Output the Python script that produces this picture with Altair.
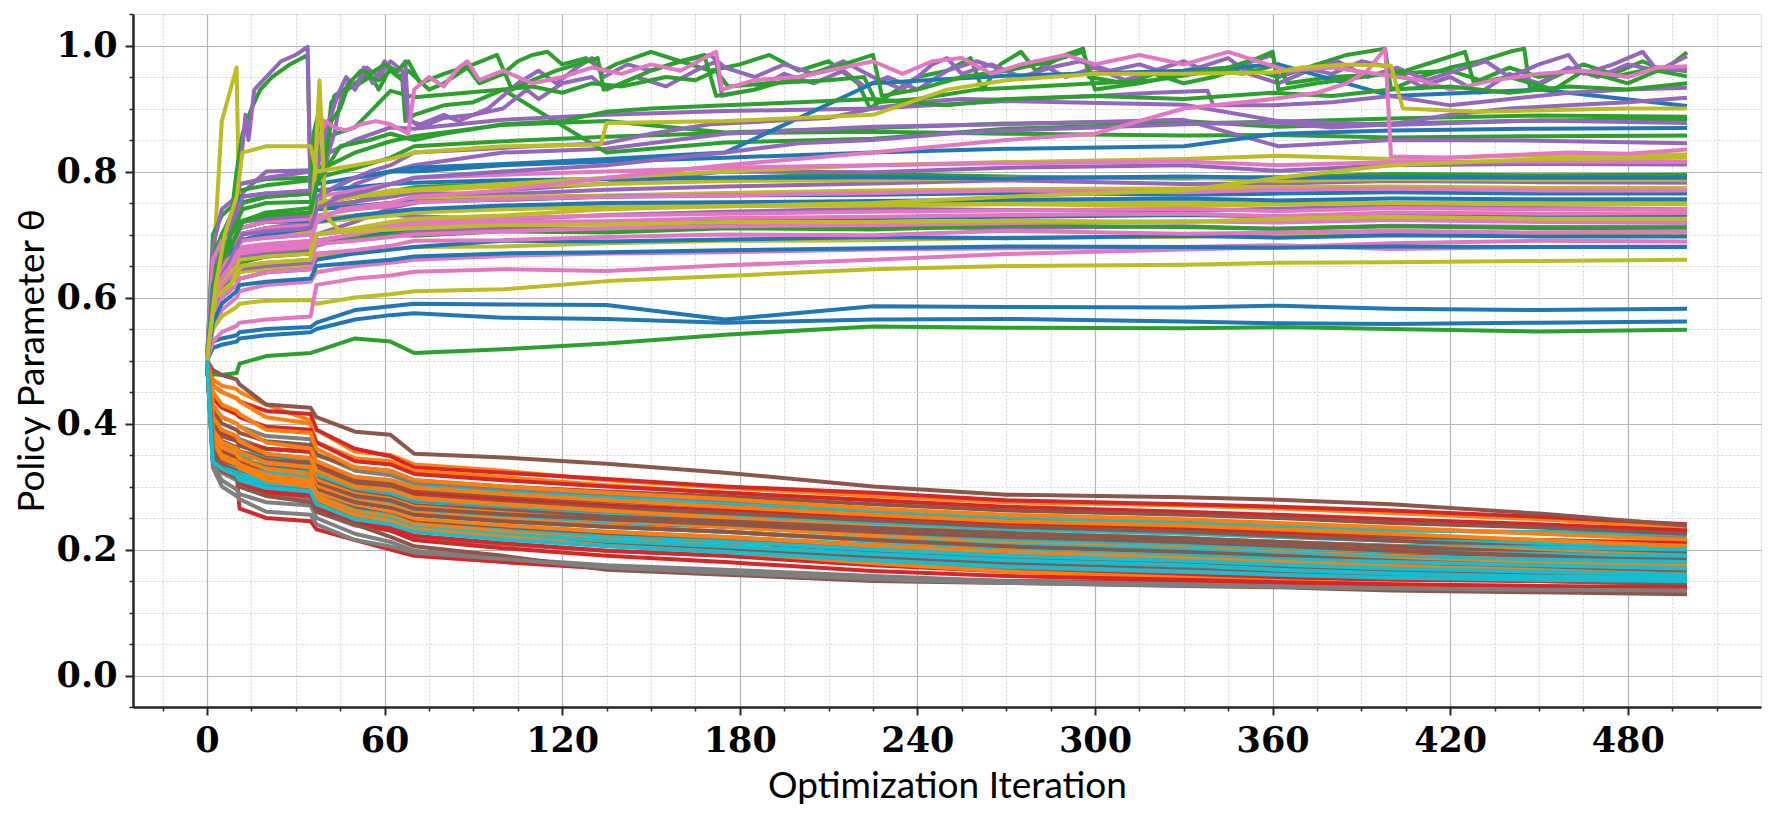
import altair as alt
import pandas as pd

# shared iteration grid for most runs
ITERS = [0, 2, 5, 10, 11, 20, 35, 37, 50, 62, 70, 100, 135, 175, 225, 270, 330, 362, 400, 450, 500]

COLOR_NAMES = ["blue", "orange", "green", "red", "purple", "brown", "pink", "gray", "olive", "cyan"]
COLOR_HEX = ["#1f77b4", "#ff7f0e", "#2ca02c", "#d62728", "#9467bd",
             "#8c564b", "#e377c2", "#7f7f7f", "#bcbd22", "#17becf"]

X_TICKS = [-15, 0, 15, 30, 45, 60, 75, 90, 105, 120, 135, 150, 165, 180, 195, 210, 225, 240,
           255, 270, 285, 300, 315, 330, 345, 360, 375, 390, 405, 420, 435, 450, 465, 480, 495, 510]
Y_TICKS = [-0.05, 0.0, 0.05, 0.1, 0.15, 0.2, 0.25, 0.3, 0.35, 0.4, 0.45, 0.5, 0.55, 0.6,
           0.65, 0.7, 0.75, 0.8, 0.85, 0.9, 0.95, 1.0, 1.05]

# ---------------- upper runs (grid) ----------------
BLUE = [
    [0.5, 0.52, 0.525, 0.53, 0.535, 0.54, 0.545, 0.55, 0.565, 0.572, 0.575, 0.568, 0.566, 0.56, 0.565, 0.566, 0.562, 0.559, 0.558, 0.56, 0.562],
    [0.5, 0.53, 0.535, 0.54, 0.545, 0.55, 0.553, 0.56, 0.58, 0.586, 0.59, 0.589, 0.588, 0.565, 0.586, 0.585, 0.584, 0.587, 0.582, 0.58, 0.582],
    [0.5, 0.57, 0.60, 0.62, 0.63, 0.64, 0.645, 0.66, 0.67, 0.676, 0.68, 0.69, 0.689, 0.692, 0.696, 0.694, 0.698, 0.695, 0.699, 0.697, 0.697],
    [0.5, 0.60, 0.63, 0.65, 0.66, 0.665, 0.67, 0.69, 0.70, 0.705, 0.71, 0.716, 0.72, 0.722, 0.726, 0.728, 0.731, 0.729, 0.732, 0.73, 0.73],
    [0.5, 0.62, 0.65, 0.67, 0.69, 0.70, 0.702, 0.72, 0.73, 0.736, 0.74, 0.746, 0.75, 0.751, 0.753, 0.755, 0.757, 0.754, 0.757, 0.756, 0.756],
    [0.5, 0.63, 0.66, 0.68, 0.70, 0.71, 0.715, 0.74, 0.745, 0.75, 0.752, 0.755, 0.76, 0.762, 0.763, 0.766, 0.763, 0.765, 0.767, 0.765, 0.765],
    [0.5, 0.64, 0.68, 0.72, 0.76, 0.765, 0.766, 0.77, 0.775, 0.78, 0.782, 0.786, 0.788, 0.79, 0.791, 0.789, 0.792, 0.79, 0.791, 0.79, 0.79],
    [0.5, 0.64, 0.68, 0.70, 0.71, 0.72, 0.722, 0.78, 0.79, 0.80, 0.80, 0.81, 0.816, 0.822, 0.83, 0.836, 0.84, 0.86, 0.865, 0.868, 0.869],
    [0.5, 0.62, 0.66, 0.68, 0.69, 0.70, 0.71, 0.76, 0.79, 0.80, 0.806, 0.812, 0.82, 0.83, 0.94, 0.952, 0.96, 0.97, 0.92, 0.93, 0.904],
    [0.5, 0.56, 0.59, 0.61, 0.62, 0.625, 0.63, 0.65, 0.655, 0.66, 0.665, 0.67, 0.672, 0.675, 0.678, 0.681, 0.68, 0.679, 0.681, 0.68, 0.68],
]
GREEN = [
    [0.5, 0.478, 0.477, 0.48, 0.495, 0.507, 0.512, 0.515, 0.535, 0.53, 0.512, 0.518, 0.527, 0.541, 0.554, 0.552, 0.551, 0.553, 0.55, 0.546, 0.549],
    [0.5, 0.58, 0.615, 0.635, 0.655, 0.665, 0.672, 0.69, 0.695, 0.70, 0.698, 0.705, 0.703, 0.71, 0.708, 0.714, 0.712, 0.709, 0.713, 0.71, 0.71],
    [0.5, 0.64, 0.69, 0.72, 0.75, 0.76, 0.765, 0.742, 0.752, 0.768, 0.775, 0.781, 0.788, 0.79, 0.796, 0.792, 0.789, 0.791, 0.796, 0.794, 0.795],
    [0.5, 0.66, 0.70, 0.74, 0.77, 0.778, 0.786, 0.79, 0.805, 0.822, 0.84, 0.848, 0.855, 0.861, 0.863, 0.86, 0.857, 0.858, 0.854, 0.856, 0.857],
    [0.5, 0.62, 0.668, 0.70, 0.72, 0.735, 0.742, 0.80, 0.83, 0.848, 0.856, 0.874, 0.88, 0.862, 0.869, 0.876, 0.88, 0.871, 0.876, 0.881, 0.883],
    [0.5, 0.70, 0.73, 0.752, 0.78, 0.788, 0.79, 0.85, 0.87, 0.928, 0.918, 0.93, 0.83, 0.846, 0.852, 0.868, 0.876, 0.879, 0.884, 0.889, 0.887],
]
PURPLE = [
    [0.5, 0.60, 0.64, 0.655, 0.664, 0.67, 0.676, 0.682, 0.70, 0.706, 0.704, 0.71, 0.709, 0.716, 0.712, 0.71, 0.713, 0.709, 0.714, 0.712, 0.713],
    [0.5, 0.63, 0.66, 0.68, 0.69, 0.695, 0.70, 0.72, 0.726, 0.731, 0.729, 0.724, 0.731, 0.736, 0.741, 0.739, 0.737, 0.741, 0.745, 0.742, 0.74],
    [0.5, 0.66, 0.70, 0.75, 0.762, 0.80, 0.802, 0.745, 0.752, 0.76, 0.766, 0.764, 0.771, 0.776, 0.781, 0.786, 0.78, 0.781, 0.785, 0.783, 0.782],
    [0.5, 0.58, 0.62, 0.64, 0.645, 0.65, 0.655, 0.70, 0.72, 0.742, 0.75, 0.77, 0.781, 0.80, 0.799, 0.806, 0.81, 0.801, 0.81, 0.812, 0.811],
    [0.5, 0.62, 0.66, 0.69, 0.70, 0.71, 0.72, 0.74, 0.78, 0.80, 0.81, 0.83, 0.836, 0.86, 0.871, 0.875, 0.882, 0.84, 0.85, 0.849, 0.845],
    [0.5, 0.68, 0.74, 0.76, 0.78, 0.79, 0.80, 0.82, 0.85, 0.87, 0.868, 0.882, 0.89, 0.896, 0.90, 0.912, 0.906, 0.88, 0.874, 0.881, 0.877],
]
PINK = [
    [0.5, 0.55, 0.58, 0.60, 0.61, 0.62, 0.625, 0.64, 0.65, 0.655, 0.66, 0.666, 0.67, 0.672, 0.676, 0.678, 0.68, 0.683, 0.677, 0.68, 0.681],
    [0.5, 0.53, 0.545, 0.555, 0.56, 0.565, 0.57, 0.62, 0.63, 0.635, 0.641, 0.645, 0.642, 0.651, 0.66, 0.669, 0.676, 0.68, 0.686, 0.69, 0.689],
    [0.5, 0.57, 0.60, 0.62, 0.63, 0.64, 0.645, 0.67, 0.675, 0.682, 0.69, 0.691, 0.696, 0.70, 0.699, 0.706, 0.701, 0.703, 0.706, 0.703, 0.705],
    [0.5, 0.59, 0.62, 0.645, 0.65, 0.655, 0.66, 0.685, 0.69, 0.696, 0.70, 0.705, 0.71, 0.713, 0.715, 0.718, 0.721, 0.719, 0.723, 0.72, 0.72],
    [0.5, 0.60, 0.64, 0.66, 0.67, 0.675, 0.68, 0.69, 0.70, 0.71, 0.716, 0.72, 0.721, 0.726, 0.728, 0.731, 0.733, 0.729, 0.735, 0.733, 0.734],
    [0.5, 0.62, 0.655, 0.67, 0.675, 0.68, 0.685, 0.70, 0.706, 0.715, 0.72, 0.726, 0.73, 0.733, 0.736, 0.738, 0.741, 0.737, 0.742, 0.74, 0.74],
    [0.5, 0.64, 0.67, 0.69, 0.70, 0.71, 0.715, 0.73, 0.74, 0.745, 0.751, 0.756, 0.76, 0.762, 0.766, 0.77, 0.767, 0.771, 0.773, 0.77, 0.77],
    [0.5, 0.66, 0.69, 0.70, 0.71, 0.72, 0.725, 0.76, 0.77, 0.78, 0.79, 0.795, 0.80, 0.806, 0.81, 0.813, 0.816, 0.81, 0.815, 0.816, 0.815],
]
OLIVE = [
    [0.5, 0.55, 0.57, 0.585, 0.59, 0.595, 0.596, 0.59, 0.60, 0.605, 0.61, 0.613, 0.626, 0.634, 0.645, 0.65, 0.652, 0.655, 0.656, 0.658, 0.66],
    [0.5, 0.58, 0.61, 0.63, 0.64, 0.645, 0.65, 0.665, 0.67, 0.676, 0.68, 0.681, 0.686, 0.69, 0.691, 0.695, 0.696, 0.70, 0.701, 0.70, 0.70],
    [0.5, 0.62, 0.65, 0.67, 0.72, 0.73, 0.735, 0.725, 0.73, 0.736, 0.74, 0.741, 0.743, 0.745, 0.746, 0.748, 0.745, 0.748, 0.75, 0.748, 0.748],
    [0.5, 0.64, 0.88, 0.965, 0.70, 0.71, 0.72, 0.72, 0.725, 0.73, 0.735, 0.74, 0.745, 0.746, 0.748, 0.75, 0.751, 0.748, 0.75, 0.751, 0.75],
    [0.5, 0.63, 0.66, 0.68, 0.70, 0.71, 0.712, 0.74, 0.745, 0.75, 0.756, 0.76, 0.762, 0.766, 0.77, 0.772, 0.773, 0.775, 0.776, 0.774, 0.774],
    [0.5, 0.64, 0.67, 0.69, 0.71, 0.72, 0.722, 0.75, 0.76, 0.765, 0.77, 0.776, 0.78, 0.785, 0.786, 0.79, 0.791, 0.785, 0.788, 0.787, 0.787],
    [0.5, 0.62, 0.65, 0.68, 0.69, 0.70, 0.705, 0.75, 0.76, 0.77, 0.772, 0.78, 0.79, 0.80, 0.81, 0.815, 0.82, 0.825, 0.82, 0.826, 0.827],
    [0.5, 0.60, 0.63, 0.65, 0.66, 0.665, 0.67, 0.70, 0.71, 0.72, 0.725, 0.73, 0.74, 0.745, 0.75, 0.76, 0.77, 0.79, 0.81, 0.82, 0.822],
]

# ---------------- upper runs with their own iterations (jagged) ----------------
GREEN_J = [
    [(0, .5), (3, .68), (8, .72), (10, .80), (12, .86), (15, .90), (18, .93), (22, .95), (28, .97), (34, .985), (35, .77), (37, .80), (38, .88), (40, .82), (42, .91), (45, .92), (50, .94), (55, .955), (58, .93), (62, .965), (65, .95), (68, .96), (75, .93), (80, .94), (88, .965), (92, .94), (100, .955), (105, .975), (110, .985), (115, .99), (120, .97), (128, .98), (134, .96), (138, .97), (150, .99), (160, .975), (170, .96), (180, .97), (190, .985), (200, .96), (210, .975), (220, .94), (224, .90), (230, .92), (240, .95), (250, .96), (258, .98), (262, .93), (268, .97), (275, .99), (280, .96), (290, .985), (296, .995), (298, .95), (310, .94), (320, .955), (330, .94), (340, .95), (350, .965), (362, .95), (375, .97), (385, .985), (398, .995), (400, .93), (410, .95), (420, .965), (430, .975), (440, .99), (445, .995), (447, .93), (455, .95), (465, .97), (475, .955), (485, .975), (492, .96), (500, .989)],
    [(0, .5), (3, .66), (8, .69), (10, .72), (12, .75), (20, .76), (35, .765), (36, .86), (38, .90), (40, .85), (43, .92), (46, .93), (50, .935), (55, .95), (58, .945), (62, .96), (66, .945), (67, .88), (70, .89), (80, .905), (90, .91), (100, .93), (110, .935), (120, .925), (130, .94), (140, .935), (155, .95), (165, .945), (172, .96), (176, .935), (190, .94), (210, .945), (222, .95), (226, .91), (240, .915), (260, .93), (280, .935), (300, .94), (320, .945), (340, .96), (350, .955), (362, .97), (365, .94), (380, .95), (400, .955), (420, .96), (430, .945), (440, .965), (450, .95), (460, .96), (475, .95), (490, .965), (500, .959)],
    [(0, .5), (3, .64), (8, .70), (10, .72), (12, .74), (20, .75), (35, .752), (37, .79), (40, .82), (42, .88), (45, .90), (48, .94), (52, .96), (55, .955), (60, .97), (64, .96), (68, .975), (72, .94), (80, .955), (90, .97), (98, .985), (103, .93), (110, .945), (118, .96), (125, .97), (132, .98), (134, .93), (140, .94), (150, .96), (160, .975), (168, .985), (172, .92), (185, .93), (200, .95), (215, .97), (225, .985), (228, .92), (240, .93), (255, .95), (270, .96), (285, .975), (296, .99), (300, .93), (315, .94), (330, .955), (345, .965), (355, .98), (360, .99), (362, .93), (375, .94), (390, .95), (405, .96), (415, .975), (425, .99), (428, .94), (440, .95), (455, .93), (465, .96), (480, .94), (490, .96), (500, .951)],
    [(0, .5), (3, .65), (8, .68), (10, .70), (12, .72), (20, .73), (35, .735), (37, .78), (45, .84), (55, .85), (62, .86), (70, .85), (80, .86), (100, .875), (120, .88), (135, .895), (150, .90), (175, .905), (200, .91), (225, .915), (250, .905), (270, .915), (300, .92), (330, .915), (360, .925), (380, .92), (400, .93), (420, .935), (440, .925), (460, .935), (480, .93), (500, .94)],
]
PURPLE_J = [
    [(0, .5), (3, .66), (8, .70), (10, .76), (12, .84), (13, .89), (14, .85), (16, .93), (20, .95), (25, .975), (30, .985), (34, .998), (35, .76), (38, .745), (41, .83), (43, .86), (45, .91), (48, .945), (50, .93), (53, .965), (56, .94), (60, .975), (64, .955), (67, .975), (68, .885), (72, .87), (80, .885), (90, .89), (100, .90), (108, .93), (112, .915), (120, .94), (130, .95), (135, .93), (145, .95), (155, .935), (165, .96), (172, .975), (174, .92), (185, .93), (195, .955), (205, .94), (215, .96), (222, .935), (230, .95), (240, .93), (250, .96), (260, .975), (270, .96), (280, .975), (290, .95), (300, .965), (310, .945), (320, .96), (330, .975), (340, .955), (350, .97), (360, .985), (362, .95), (370, .965), (380, .955), (390, .975), (400, .965), (410, .935), (420, .95), (430, .925), (440, .955), (450, .94), (460, .965), (470, .95), (480, .97), (490, .96), (500, .983)],
    [(0, .5), (3, .67), (8, .71), (10, .73), (12, .76), (20, .765), (35, .77), (37, .80), (40, .86), (44, .92), (47, .95), (50, .93), (54, .965), (58, .95), (62, .975), (66, .96), (68, .88), (72, .875), (80, .89), (85, .88), (95, .90), (105, .94), (112, .96), (118, .94), (125, .965), (130, .98), (134, .95), (142, .97), (150, .96), (160, .975), (170, .985), (175, .965), (185, .95), (195, .97), (205, .955), (215, .975), (225, .95), (235, .93), (245, .97), (250, .98), (255, .955), (265, .97), (275, .95), (285, .965), (295, .975), (305, .96), (315, .97), (325, .955), (335, .965), (345, .98), (352, .955), (362, .94), (372, .96), (382, .975), (392, .95), (402, .965), (412, .945), (422, .96), (432, .975), (440, .95), (450, .97), (460, .985), (465, .955), (475, .97), (485, .99), (490, .96), (500, .962)],
    [(0, .5), (3, .64), (8, .68), (10, .70), (12, .72), (20, .725), (35, .73), (37, .76), (45, .78), (55, .80), (62, .81), (70, .83), (90, .835), (110, .84), (135, .845), (150, .86), (170, .875), (190, .88), (210, .885), (225, .90), (240, .91), (255, .915), (270, .914), (300, .92), (320, .925), (338, .928), (340, .905), (360, .905), (380, .91), (400, .92), (420, .905), (440, .915), (460, .925), (480, .93), (500, .933)],
    [(0, .5), (3, .62), (8, .66), (10, .68), (12, .70), (20, .705), (35, .71), (37, .74), (45, .76), (55, .77), (62, .78), (70, .79), (100, .80), (135, .81), (175, .83), (200, .845), (225, .85), (250, .86), (270, .865), (300, .87), (330, .875), (360, .878), (380, .87), (400, .875), (420, .89), (440, .90), (460, .905), (480, .91), (500, .917)],
]
PINK_J = [
    [(0, .5), (3, .63), (8, .66), (10, .68), (12, .69), (20, .695), (35, .70), (37, .84), (40, .88), (43, .87), (47, .865), (52, .875), (57, .88), (62, .875), (68, .86), (70, .93), (75, .95), (80, .935), (85, .965), (88, .975), (92, .945), (100, .96), (110, .94), (120, .95), (130, .965), (140, .955), (150, .97), (160, .96), (172, .99), (174, .93), (185, .945), (200, .95), (215, .965), (225, .975), (235, .955), (245, .975), (255, .98), (265, .955), (275, .97), (290, .985), (300, .97), (315, .985), (330, .97), (345, .99), (355, .975), (365, .96), (380, .965), (395, .955), (410, .945), (420, .93), (435, .945), (450, .955), (465, .96), (480, .95), (490, .965), (500, .967)],
    [(0, .5), (3, .62), (8, .65), (10, .67), (12, .68), (20, .685), (35, .69), (37, .72), (45, .74), (62, .75), (70, .76), (100, .77), (135, .79), (175, .81), (225, .83), (270, .85), (300, .86), (330, .90), (360, .915), (375, .925), (385, .94), (392, .96), (398, .995), (400, .824), (420, .822), (440, .826), (460, .83), (480, .828), (500, .835)],
]
OLIVE_J = [
    [(0, .5), (3, .60), (8, .62), (10, .64), (12, .65), (20, .655), (35, .66), (37, .85), (38, .945), (40, .73), (45, .705), (50, .705), (62, .708), (70, .71), (100, .715), (135, .716), (175, .72), (225, .72), (270, .722), (330, .72), (362, .725), (400, .728), (450, .725), (500, .725)],
    [(0, .5), (3, .62), (6, .70), (10, .76), (12, .83), (20, .84), (35, .84), (37, .80), (50, .81), (62, .82), (70, .83), (100, .84), (133, .843), (135, .877), (175, .88), (225, .89), (250, .93), (270, .945), (300, .955), (330, .955), (360, .957), (370, .965), (385, .97), (400, .968), (404, .90), (430, .895), (460, .898), (480, .90), (500, .90)],
]

# ---------------- lower runs (grid) ----------------
ORANGE = [
    [0.5, 0.47, 0.46, 0.455, 0.45, 0.43, 0.405, 0.39, 0.355, 0.35, 0.335, 0.325, 0.31, 0.298, 0.285, 0.275, 0.27, 0.265, 0.258, 0.248, 0.235],
    [0.5, 0.46, 0.45, 0.44, 0.435, 0.41, 0.40, 0.37, 0.345, 0.34, 0.325, 0.315, 0.302, 0.29, 0.278, 0.265, 0.258, 0.252, 0.245, 0.236, 0.226],
    [0.5, 0.45, 0.43, 0.42, 0.415, 0.39, 0.385, 0.36, 0.33, 0.325, 0.31, 0.30, 0.29, 0.28, 0.265, 0.255, 0.248, 0.242, 0.235, 0.225, 0.215],
    [0.5, 0.43, 0.41, 0.40, 0.395, 0.37, 0.36, 0.34, 0.315, 0.31, 0.298, 0.288, 0.278, 0.268, 0.255, 0.245, 0.238, 0.232, 0.225, 0.215, 0.205],
    [0.5, 0.41, 0.39, 0.38, 0.372, 0.352, 0.345, 0.325, 0.30, 0.295, 0.282, 0.272, 0.262, 0.25, 0.236, 0.226, 0.218, 0.212, 0.205, 0.198, 0.19],
    [0.5, 0.39, 0.37, 0.36, 0.355, 0.338, 0.33, 0.31, 0.288, 0.28, 0.268, 0.258, 0.247, 0.236, 0.222, 0.21, 0.202, 0.196, 0.19, 0.183, 0.176],
    [0.5, 0.38, 0.362, 0.352, 0.345, 0.328, 0.32, 0.30, 0.278, 0.27, 0.258, 0.248, 0.238, 0.228, 0.214, 0.203, 0.195, 0.19, 0.184, 0.178, 0.171],
    [0.5, 0.37, 0.35, 0.34, 0.335, 0.318, 0.31, 0.29, 0.268, 0.26, 0.248, 0.238, 0.228, 0.22, 0.206, 0.196, 0.186, 0.18, 0.174, 0.167, 0.16],
    [0.5, 0.36, 0.345, 0.335, 0.33, 0.312, 0.305, 0.285, 0.26, 0.252, 0.24, 0.228, 0.215, 0.206, 0.19, 0.178, 0.168, 0.162, 0.156, 0.15, 0.145],
    [0.5, 0.365, 0.348, 0.338, 0.33, 0.31, 0.30, 0.28, 0.255, 0.245, 0.232, 0.22, 0.206, 0.196, 0.178, 0.165, 0.155, 0.15, 0.145, 0.14, 0.134],
]
RED = [
    [0.5, 0.46, 0.45, 0.44, 0.435, 0.42, 0.415, 0.39, 0.36, 0.348, 0.33, 0.322, 0.312, 0.30, 0.29, 0.278, 0.272, 0.268, 0.262, 0.252, 0.24],
    [0.5, 0.44, 0.425, 0.415, 0.41, 0.395, 0.39, 0.37, 0.34, 0.335, 0.32, 0.31, 0.30, 0.29, 0.278, 0.268, 0.26, 0.255, 0.248, 0.24, 0.23],
    [0.5, 0.40, 0.385, 0.378, 0.37, 0.36, 0.355, 0.335, 0.31, 0.305, 0.29, 0.28, 0.27, 0.262, 0.25, 0.24, 0.232, 0.226, 0.22, 0.215, 0.21],
    [0.5, 0.37, 0.355, 0.345, 0.34, 0.332, 0.328, 0.31, 0.29, 0.284, 0.272, 0.262, 0.252, 0.245, 0.232, 0.222, 0.214, 0.208, 0.20, 0.195, 0.19],
    [0.5, 0.36, 0.345, 0.335, 0.33, 0.32, 0.315, 0.30, 0.28, 0.272, 0.26, 0.25, 0.242, 0.236, 0.225, 0.215, 0.207, 0.20, 0.195, 0.19, 0.184],
    [0.5, 0.35, 0.335, 0.325, 0.318, 0.305, 0.30, 0.285, 0.262, 0.255, 0.244, 0.234, 0.224, 0.216, 0.204, 0.195, 0.188, 0.183, 0.178, 0.174, 0.17],
    [0.5, 0.345, 0.33, 0.32, 0.312, 0.298, 0.292, 0.276, 0.25, 0.242, 0.23, 0.218, 0.208, 0.20, 0.188, 0.178, 0.17, 0.166, 0.162, 0.158, 0.155],
    [0.5, 0.35, 0.33, 0.32, 0.265, 0.25, 0.245, 0.232, 0.215, 0.20, 0.19, 0.18, 0.17, 0.162, 0.155, 0.15, 0.148, 0.146, 0.143, 0.14, 0.135],
    [0.5, 0.34, 0.325, 0.315, 0.305, 0.29, 0.285, 0.27, 0.245, 0.235, 0.222, 0.21, 0.198, 0.19, 0.175, 0.165, 0.158, 0.155, 0.152, 0.15, 0.148],
    [0.5, 0.345, 0.328, 0.318, 0.31, 0.295, 0.288, 0.265, 0.24, 0.23, 0.215, 0.202, 0.19, 0.18, 0.166, 0.158, 0.152, 0.148, 0.145, 0.142, 0.14],
]
BROWN = [
    [0.5, 0.485, 0.477, 0.47, 0.462, 0.43, 0.425, 0.41, 0.387, 0.382, 0.352, 0.346, 0.336, 0.322, 0.30, 0.287, 0.283, 0.279, 0.272, 0.257, 0.238],
    [0.5, 0.42, 0.40, 0.39, 0.385, 0.372, 0.366, 0.35, 0.33, 0.325, 0.31, 0.30, 0.292, 0.284, 0.272, 0.262, 0.255, 0.25, 0.242, 0.235, 0.225],
    [0.5, 0.40, 0.38, 0.372, 0.365, 0.35, 0.345, 0.33, 0.31, 0.305, 0.295, 0.285, 0.276, 0.268, 0.255, 0.245, 0.237, 0.232, 0.222, 0.21, 0.20],
    [0.5, 0.39, 0.372, 0.362, 0.356, 0.342, 0.338, 0.325, 0.305, 0.298, 0.285, 0.275, 0.266, 0.258, 0.246, 0.236, 0.228, 0.222, 0.214, 0.204, 0.195],
    [0.5, 0.38, 0.36, 0.352, 0.345, 0.33, 0.325, 0.312, 0.29, 0.283, 0.27, 0.262, 0.252, 0.245, 0.234, 0.226, 0.218, 0.212, 0.205, 0.195, 0.185],
    [0.5, 0.375, 0.355, 0.345, 0.34, 0.325, 0.32, 0.305, 0.285, 0.278, 0.265, 0.256, 0.248, 0.24, 0.228, 0.22, 0.212, 0.206, 0.198, 0.19, 0.18],
    [0.5, 0.37, 0.35, 0.34, 0.33, 0.315, 0.31, 0.295, 0.275, 0.266, 0.255, 0.245, 0.236, 0.228, 0.215, 0.205, 0.196, 0.19, 0.182, 0.174, 0.165],
    [0.5, 0.36, 0.342, 0.332, 0.322, 0.305, 0.30, 0.285, 0.265, 0.255, 0.243, 0.232, 0.222, 0.212, 0.198, 0.188, 0.18, 0.172, 0.165, 0.158, 0.15],
    [0.5, 0.355, 0.335, 0.325, 0.315, 0.298, 0.292, 0.276, 0.255, 0.245, 0.232, 0.22, 0.208, 0.20, 0.188, 0.178, 0.168, 0.162, 0.156, 0.15, 0.145],
    [0.5, 0.36, 0.33, 0.315, 0.30, 0.285, 0.275, 0.26, 0.24, 0.22, 0.205, 0.19, 0.168, 0.16, 0.15, 0.147, 0.142, 0.14, 0.135, 0.132, 0.129],
]
GRAY = [
    [0.5, 0.42, 0.41, 0.40, 0.395, 0.38, 0.375, 0.352, 0.325, 0.318, 0.305, 0.295, 0.285, 0.276, 0.262, 0.252, 0.244, 0.238, 0.232, 0.226, 0.22],
    [0.5, 0.40, 0.39, 0.38, 0.375, 0.36, 0.355, 0.335, 0.31, 0.302, 0.29, 0.28, 0.27, 0.26, 0.248, 0.238, 0.23, 0.224, 0.218, 0.212, 0.205],
    [0.5, 0.38, 0.37, 0.36, 0.355, 0.34, 0.335, 0.315, 0.295, 0.288, 0.275, 0.265, 0.256, 0.248, 0.236, 0.226, 0.218, 0.212, 0.206, 0.20, 0.195],
    [0.5, 0.37, 0.358, 0.35, 0.345, 0.33, 0.325, 0.305, 0.285, 0.278, 0.265, 0.255, 0.246, 0.238, 0.226, 0.216, 0.208, 0.203, 0.198, 0.194, 0.19],
    [0.5, 0.36, 0.35, 0.342, 0.336, 0.32, 0.315, 0.296, 0.275, 0.268, 0.255, 0.245, 0.236, 0.228, 0.216, 0.206, 0.198, 0.193, 0.188, 0.184, 0.18],
    [0.5, 0.35, 0.34, 0.332, 0.325, 0.31, 0.305, 0.285, 0.265, 0.256, 0.243, 0.232, 0.222, 0.213, 0.20, 0.19, 0.182, 0.177, 0.172, 0.169, 0.166],
    [0.5, 0.345, 0.332, 0.322, 0.316, 0.30, 0.295, 0.275, 0.252, 0.244, 0.232, 0.222, 0.212, 0.204, 0.192, 0.182, 0.175, 0.17, 0.166, 0.163, 0.16],
    [0.5, 0.34, 0.322, 0.31, 0.30, 0.285, 0.28, 0.26, 0.238, 0.23, 0.218, 0.208, 0.198, 0.19, 0.178, 0.168, 0.162, 0.158, 0.155, 0.152, 0.15],
    [0.5, 0.335, 0.31, 0.295, 0.288, 0.275, 0.27, 0.25, 0.225, 0.212, 0.198, 0.186, 0.175, 0.168, 0.158, 0.15, 0.145, 0.142, 0.14, 0.139, 0.139],
    [0.5, 0.33, 0.30, 0.285, 0.28, 0.26, 0.255, 0.24, 0.215, 0.205, 0.195, 0.185, 0.172, 0.163, 0.153, 0.147, 0.143, 0.141, 0.138, 0.136, 0.135],
]
CYAN = [
    [0.5, 0.40, 0.385, 0.375, 0.37, 0.36, 0.355, 0.34, 0.315, 0.31, 0.30, 0.29, 0.282, 0.272, 0.26, 0.25, 0.242, 0.236, 0.23, 0.228, 0.224],
    [0.5, 0.37, 0.365, 0.36, 0.355, 0.348, 0.345, 0.33, 0.305, 0.30, 0.29, 0.28, 0.27, 0.262, 0.25, 0.24, 0.232, 0.226, 0.22, 0.215, 0.21],
    [0.5, 0.36, 0.355, 0.35, 0.348, 0.342, 0.34, 0.32, 0.298, 0.292, 0.28, 0.27, 0.262, 0.255, 0.242, 0.232, 0.225, 0.22, 0.214, 0.21, 0.206],
    [0.5, 0.355, 0.35, 0.345, 0.34, 0.335, 0.33, 0.31, 0.29, 0.285, 0.272, 0.262, 0.254, 0.246, 0.234, 0.224, 0.216, 0.212, 0.206, 0.203, 0.20],
    [0.5, 0.35, 0.345, 0.34, 0.335, 0.328, 0.322, 0.30, 0.28, 0.275, 0.262, 0.252, 0.244, 0.236, 0.224, 0.215, 0.208, 0.202, 0.197, 0.193, 0.19],
    [0.5, 0.35, 0.342, 0.336, 0.33, 0.322, 0.318, 0.295, 0.275, 0.268, 0.255, 0.245, 0.236, 0.228, 0.216, 0.207, 0.20, 0.194, 0.188, 0.184, 0.18],
    [0.5, 0.345, 0.338, 0.332, 0.326, 0.316, 0.31, 0.29, 0.268, 0.26, 0.248, 0.238, 0.228, 0.22, 0.208, 0.198, 0.19, 0.185, 0.18, 0.175, 0.17],
    [0.5, 0.345, 0.335, 0.328, 0.32, 0.31, 0.305, 0.285, 0.262, 0.254, 0.24, 0.23, 0.22, 0.212, 0.20, 0.19, 0.182, 0.176, 0.17, 0.165, 0.16],
    [0.5, 0.34, 0.33, 0.322, 0.315, 0.305, 0.30, 0.28, 0.256, 0.248, 0.235, 0.224, 0.214, 0.205, 0.193, 0.183, 0.175, 0.168, 0.162, 0.157, 0.155],
    [0.5, 0.34, 0.328, 0.318, 0.31, 0.298, 0.292, 0.272, 0.248, 0.24, 0.228, 0.216, 0.205, 0.196, 0.183, 0.173, 0.165, 0.16, 0.155, 0.152, 0.15],
]

GROUPS = [
    ("blue", BLUE, []), ("orange", ORANGE, []), ("green", GREEN, GREEN_J),
    ("red", RED, []), ("purple", PURPLE, PURPLE_J), ("brown", BROWN, []),
    ("pink", PINK, PINK_J), ("gray", GRAY, []), ("olive", OLIVE, OLIVE_J),
    ("cyan", CYAN, []),
]

# collect runs, then draw them seed by seed (all colours for seed 0, then seed 1, ...)
runs = []
for ci, (cname, grid_runs, pair_runs) in enumerate(GROUPS):
    k = 0
    for run in grid_runs:
        runs.append((k, ci, cname, list(zip(ITERS, run))))
        k += 1
    for run in pair_runs:
        runs.append((k, ci, cname, list(run)))
        k += 1
runs.sort(key=lambda r: (r[0], r[1]))

rows = []
for order_idx, (k, ci, cname, pts) in enumerate(runs):
    for it, v in pts:
        rows.append({"iter": it, "theta": v, "color": cname, "run": f"r{order_idx:03d}"})
df = pd.DataFrame(rows)

x_major = "datum.value % 60 === 0"
y_major = "abs(round(datum.value * 20) % 4) == 0"

x_axis = alt.Axis(
    values=X_TICKS, format="d",
    labelExpr=f"{x_major} ? datum.label : ''",
    grid=True,
    gridColor={"condition": {"test": x_major, "value": "#b3b3b3"}, "value": "#d4d4d4"},
    gridDash={"condition": {"test": x_major, "value": []}, "value": [2, 2]},
    gridWidth={"condition": {"test": x_major, "value": 1.2}, "value": 1},
    tickSize={"condition": {"test": x_major, "value": 8}, "value": 4},
    tickWidth={"condition": {"test": x_major, "value": 2}, "value": 1.5},
    tickColor="#262626", domainColor="#262626", domainWidth=2.5,
    labelFont="DejaVu Serif", labelFontWeight="bold", labelFontSize=35, labelColor="black",
    labelPadding=8, labelOverlap=False, labelFlush=False, labelBaseline="top",
    title="Optimization Iteration", titleFont="Lato", titleFontSize=37,
    titleFontWeight="normal", titleColor="black",
    titleX=814, titleY=90, titleAlign="center", titleBaseline="alphabetic",
)
y_axis = alt.Axis(
    values=Y_TICKS, format=".1f",
    labelExpr=f"{y_major} ? datum.label : ''",
    grid=True,
    gridColor={"condition": {"test": y_major, "value": "#b3b3b3"}, "value": "#d4d4d4"},
    gridDash={"condition": {"test": y_major, "value": []}, "value": [2, 2]},
    gridWidth={"condition": {"test": y_major, "value": 1.2}, "value": 1},
    tickSize={"condition": {"test": y_major, "value": 8}, "value": 4},
    tickWidth={"condition": {"test": y_major, "value": 2}, "value": 1.5},
    tickColor="#262626", domainColor="#262626", domainWidth=2.5,
    labelFont="DejaVu Serif", labelFontWeight="bold", labelFontSize=35, labelColor="black",
    labelPadding=8, labelOverlap=False, labelFlush=False,
    title="Policy Parameter θ", titleFont="Lato", titleFontSize=37,
    titleFontWeight="normal", titleColor="black",
    titleX=-90, titleY=346.5, titleAngle=270, titleAlign="center", titleBaseline="alphabetic",
)

chart = alt.Chart(df).mark_line(strokeJoin="round", strokeCap="butt").encode(
    x=alt.X("iter:Q", scale=alt.Scale(domain=[-25, 525], nice=False, zero=False), axis=x_axis),
    y=alt.Y("theta:Q", scale=alt.Scale(domain=[-0.05, 1.05], nice=False, zero=False), axis=y_axis),
    color=alt.Color("color:N", scale=alt.Scale(domain=COLOR_NAMES, range=COLOR_HEX), legend=None),
    detail="run:N",
    strokeWidth=alt.value(4.0),
).properties(
    width=1628, height=693,
    autosize=alt.AutoSizeParams(type="none"),
    padding={"left": 125, "top": 6, "right": 8, "bottom": 100},
).configure_view(
    stroke="#262626", strokeWidth=2.5
).configure(background="white")

chart.save("out.html", embed_options={"renderer": "svg", "actions": False})
